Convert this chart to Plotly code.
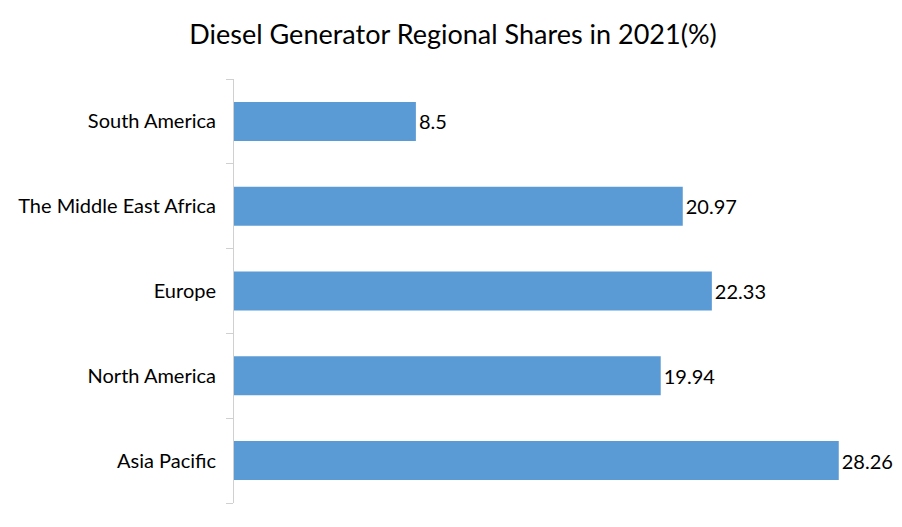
import plotly.graph_objects as go

regions = ["Asia Pacific", "North America", "Europe", "The Middle East Africa", "South America"]
shares = [28.26, 19.94, 22.33, 20.97, 8.5]
labels = ["28.26", "19.94", "22.33", "20.97", "8.5"]

FONT = "Lato"

fig = go.Figure(go.Bar(
    y=regions, x=shares, orientation="h",
    marker=dict(color="#5B9BD5", line=dict(width=0)),
    text=labels, textposition="outside", cliponaxis=False,
    textfont=dict(family=FONT, size=20, color="#000000"),
))

fig.update_layout(
    width=902, height=527,
    paper_bgcolor="white", plot_bgcolor="white",
    margin=dict(l=226, r=34, t=71, b=32, autoexpand=False),
    bargap=0.54,
    showlegend=False,
    title=dict(text="Diesel Generator Regional Shares in 2021(%)",
               x=0.4934, xanchor="center", y=0.95, yanchor="middle",
               font=dict(family=FONT, size=27, color="#000000")),
    xaxis=dict(range=[0, 30], visible=False, showgrid=False, zeroline=False,
               automargin=False),
    yaxis=dict(categoryorder="array", categoryarray=regions,
               showline=True, linecolor="#d0d0d0", linewidth=1,
               ticks="outside", tickson="boundaries", ticklen=7, tickcolor="#d0d0d0",
               ticklabelstandoff=13, automargin=False,
               tickfont=dict(family=FONT, size=20, color="#000000"),
               showgrid=False, zeroline=False),
)

fig.write_html("out.html")
